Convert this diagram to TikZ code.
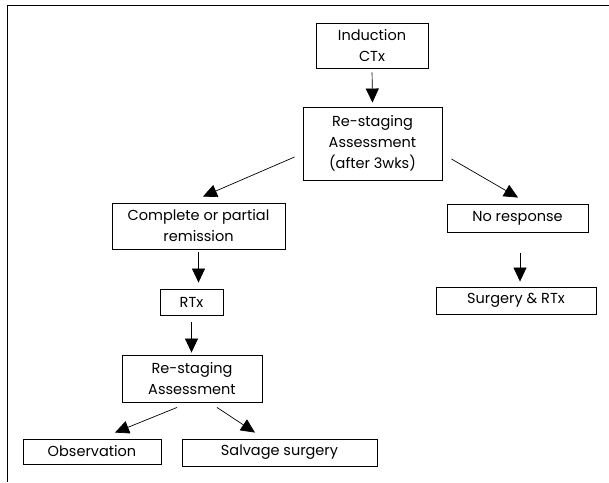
\documentclass[tikz,border=0pt]{standalone}
\usepackage{fontspec}
\setmainfont{Poppins}
\usetikzlibrary{arrows.meta}
\begin{document}
\begin{tikzpicture}[x=1pt,y=-1pt,
  box/.style={draw,line width=0.9pt,inner sep=0pt,align=center,
    font=\fontsize{14.5}{21}\selectfont},
  arr/.style={line width=0.7pt,-{Triangle[width=13pt,length=14pt]}}]
\useasboundingbox (0,0) rectangle (609,482);
\draw[line width=0.9pt] (7,482) -- (7,5) -- (609,5);
% nodes
\node[box,minimum width=112pt,minimum height=45pt] (ind) at (372,45.5) {Induction\\CTx};
\node[box,minimum width=139pt,minimum height=73pt] (rs1) at (372.5,143.5) {Re-staging\\Assessment\\(after 3wks)};
\node[box,minimum width=173pt,minimum height=46pt] (cp) at (198.5,226) {Complete or partial\\remission};
\node[box,minimum width=141pt,minimum height=28pt] (nr) at (517.5,218) {No response};
\node[box,minimum width=63pt,minimum height=26pt] (rtx) at (191.5,302) {RTx};
\node[box,minimum width=160pt,minimum height=27pt] (srt) at (516,300.5) {Surgery \& RTx};
\node[box,minimum width=140pt,minimum height=47pt] (rs2) at (192,378.5) {Re-staging\\Assessment};
\node[box,minimum width=138pt,minimum height=25pt] (obs) at (92,451.5) {Observation};
\node[box,minimum width=195pt,minimum height=27pt] (sal) at (279.5,452.5) {Salvage surgery};
% connectors
\draw[arr,shorten <=4pt,shorten >=4pt] (ind.south) -- (rs1.north);
\draw[arr] ([xshift=-8pt,yshift=-13.5pt]rs1.west) -- ([xshift=4.5pt,yshift=6pt]cp.north);
\draw[arr] ([xshift=9pt,yshift=-15.5pt]rs1.east) -- ([xshift=0.5pt,yshift=6pt]nr.north);
\draw[arr,shorten <=3pt,shorten >=6pt] (cp.south) -- (cp.south|-rtx.north);
\draw[arr] ([xshift=2.5pt,yshift=-21pt]nr.south) -- ([xshift=4pt,yshift=5pt]srt.north);
\draw[arr,shorten <=7pt,shorten >=2pt] (rtx.south) -- (rtx.south|-rs2.north);
\draw[arr] ([xshift=-15pt,yshift=-5pt]rs2.south) -- ([xshift=23pt,yshift=6pt]obs.north);
\draw[arr] ([xshift=25pt,yshift=-5pt]rs2.south) -- ([xshift=-24.5pt,yshift=6pt]sal.north);
\end{tikzpicture}
\end{document}
